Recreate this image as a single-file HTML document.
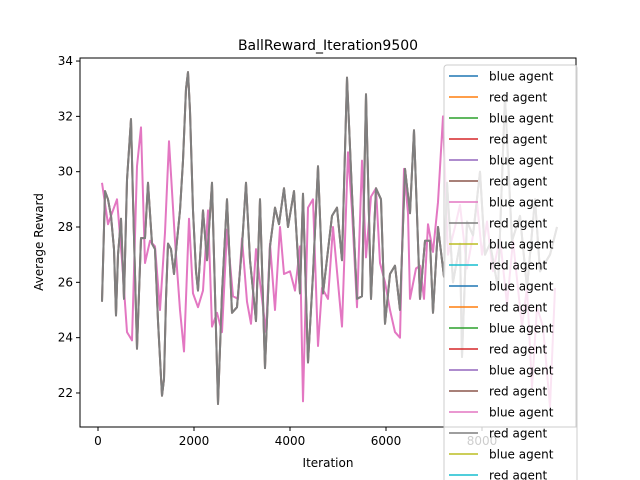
<!DOCTYPE html>
<html><head><meta charset="utf-8"><style>
html,body{margin:0;background:#fff;width:640px;height:480px;overflow:hidden}
svg{display:block;font-family:"DejaVu Sans","Liberation Sans",sans-serif}
</style></head><body>
<svg id="chart" width="640" height="480" viewBox="0 0 640 480" xmlns="http://www.w3.org/2000/svg" overflow="hidden">
<rect width="640" height="480" fill="#fff"/>
<text x="328" y="50" font-size="14" text-anchor="middle">BallReward_Iteration9500</text>
<g id="plot"></g>
<rect x="80" y="58" width="496" height="369" fill="none" stroke="#000" stroke-width="1"/>
<g id="ticks"></g>
<text x="328" y="467" font-size="12" text-anchor="middle">Iteration</text>
<text transform="translate(43,242) rotate(-90)" font-size="12" text-anchor="middle">Average Reward</text>
<g id="legend"></g>
</svg>
<script>
const grayIter=[83,146,208,271,333,375,417,479,542,604,688,729,813,896,979,1042,1125,1188,1250,1333,1375,1417,1458,1521,1583,1646,1708,1771,1833,1875,1917,1979,2042,2083,2188,2271,2375,2438,2500,2583,2688,2792,2896,3000,3083,3167,3292,3375,3479,3583,3688,3771,3875,3958,4083,4208,4271,4375,4479,4583,4688,4875,4979,5083,5188,5292,5396,5500,5583,5688,5792,5896,5979,6083,6188,6292,6396,6500,6583,6708,6813,6917,6979,7083,7208,7271,7396,7542,7583,7688,7813,7958,8063,8167,8333,8479,8625,8792,8938,9104,9208,9417,9563];
const grayVals=[25.3,29.3,29.0,28.4,27.2,24.8,27.0,28.3,25.4,29.7,31.9,29.0,23.6,27.6,27.6,29.6,27.4,27.2,24.6,21.9,22.5,25.4,27.4,27.2,26.3,27.5,28.6,30.4,33.0,33.6,32.2,28.6,26.4,25.7,28.6,26.8,29.6,25.6,21.6,25.6,29.0,24.9,25.1,27.3,29.6,26.8,24.6,29.0,22.9,27.3,28.7,28.1,29.4,28.0,29.3,25.6,29.2,23.1,26.3,30.2,25.6,28.4,28.7,26.8,33.4,29.2,25.4,25.5,32.8,25.4,29.4,29.0,24.5,26.3,26.6,25.0,30.1,28.5,31.5,25.4,27.5,27.5,24.9,28.0,26.2,29.6,26.0,27.4,23.3,28.2,27.7,30.0,27.0,27.4,25.8,32.7,27.5,28.4,25.8,29.0,26.4,27.0,28.0];
const pinkIter=[83,208,396,500,604,708,813,896,979,1083,1188,1292,1396,1479,1604,1708,1792,1896,1979,2083,2188,2292,2375,2479,2583,2688,2813,2917,3000,3104,3188,3292,3396,3500,3583,3688,3792,3875,4000,4104,4208,4271,4375,4479,4583,4667,4792,4896,5083,5208,5292,5396,5500,5583,5688,5792,5875,5979,6083,6188,6292,6375,6458,6500,6625,6708,6792,6875,6979,7083,7188,7292,7438,7542,7688,7813,7896,8000,8104,8229,8375,8521,8646,8833,8938,9042,9146,9271,9417,9521];
const pinkVals=[29.6,28.1,29.0,26.8,24.2,23.9,30.2,31.6,26.7,27.5,27.3,25.0,27.8,31.1,27.5,25.0,23.5,28.3,25.6,25.1,25.7,28.6,24.4,24.9,24.2,27.9,25.5,25.4,27.6,25.3,24.5,27.2,25.7,24.2,27.4,25.0,28.0,26.3,26.4,25.7,27.3,21.7,28.7,29.0,23.7,25.8,25.4,28.0,24.4,30.7,28.6,25.1,30.4,26.9,29.1,29.4,26.7,26.0,25.0,24.2,24.0,30.1,28.5,25.4,26.5,26.6,25.4,28.1,27.1,28.9,32.0,27.0,28.0,28.8,26.5,27.7,28.9,27.0,28.2,26.4,27.6,25.2,27.5,24.4,25.8,22.2,25.1,24.4,21.5,25.8];
const xTicks=[0,2000,4000,6000,8000];
const yTicks=[22,24,26,28,30,32,34];
const legendLabels=["blue agent","red agent","blue agent","red agent","blue agent","red agent","blue agent","red agent","blue agent","red agent","blue agent","red agent","blue agent","red agent","blue agent","red agent","blue agent","red agent","blue agent","red agent"];
const palette=["#1f77b4","#ff7f0e","#2ca02c","#d62728","#9467bd","#8c564b","#e377c2","#7f7f7f","#bcbd22","#17becf"];

const NS="http://www.w3.org/2000/svg";
const X0=80,X1=576,Y0=58,Y1=427;
const xmin=-375,xmax=9958,ymin=20.77,ymax=34.11;
const sx=v=>X0+(v-xmin)/(xmax-xmin)*(X1-X0);
const sy=v=>Y1-(v-ymin)/(ymax-ymin)*(Y1-Y0);
function mk(tag,attrs,parent){const e=document.createElementNS(NS,tag);for(const k in attrs)e.setAttribute(k,attrs[k]);parent.appendChild(e);return e;}
const plot=document.getElementById('plot');
function series(it,vals,color,name){
  const d=it.map((x,i)=>(i?'L':'M')+sx(x).toFixed(1)+','+sy(vals[i]).toFixed(1)).join('');
  const p=mk('path',{d:d,fill:'none',stroke:color,'stroke-width':2,'stroke-linejoin':'round'},plot);
  
  
}
series(grayIter,grayVals,palette[5],'red-agent-line-brown');
series(pinkIter,pinkVals,palette[6],'blue-agent-line-pink');
series(grayIter,grayVals,palette[7],'red-agent-line-gray');

const ticks=document.getElementById('ticks');
xTicks.forEach(t=>{
  const x=sx(t);
  const l=mk('line',{x1:x,x2:x,y1:Y1,y2:Y1+4,stroke:'#000'},ticks);
  
  
  const tx=mk('text',{x:x,y:Y1+18,'font-size':12,'text-anchor':'middle'},ticks);
  
  
  tx.textContent=t;
});
yTicks.forEach(t=>{
  const y=sy(t);
  const l=mk('line',{x1:X0-4,x2:X0,y1:y,y2:y,stroke:'#000'},ticks);
  
  
  const tx=mk('text',{x:X0-7,y:y+4,'font-size':12,'text-anchor':'end'},ticks);
  
  
  tx.textContent=t;
});

const lg=document.getElementById('legend');
mk('rect',{x:444,y:65,width:133,height:420,rx:3,fill:'#fff','fill-opacity':0.8,stroke:'#ccc'},lg);
legendLabels.forEach((lab,i)=>{
  const y=76+i*21;
  const l=mk('line',{x1:449,x2:478,y1:y,y2:y,stroke:palette[i%10],'stroke-width':1.5},lg);
  
  
  const t=mk('text',{x:489,y:y+4.5,'font-size':12},lg);
  
  
  t.textContent=lab;
});
</script>
</body></html>
